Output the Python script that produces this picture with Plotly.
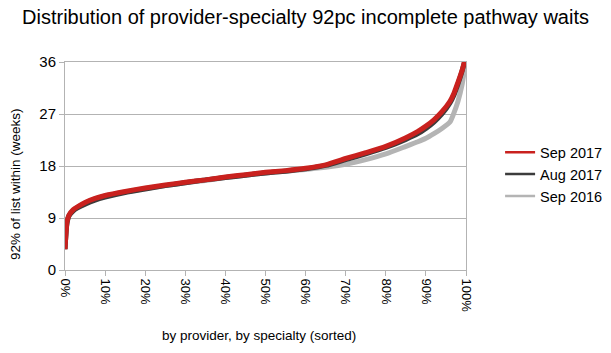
import plotly.graph_objects as go

pct = [0, 0.5, 1, 2, 3, 5, 7.5, 10, 15, 20, 25, 30, 35, 40, 45, 50, 55, 60,
       65, 70, 75, 80, 85, 88, 90, 92, 94, 96, 97, 98, 99, 100]

sep_2017 = [3.6, 8.3, 9.5, 10.4, 10.9, 11.7, 12.4, 12.9, 13.6, 14.2, 14.7, 15.2,
            15.6, 16.1, 16.5, 16.9, 17.2, 17.6, 18.2, 19.3, 20.3, 21.4, 22.9,
            24.0, 24.9, 26.0, 27.4, 29.2, 30.6, 32.5, 34.5, 37.0]
aug_2017 = [3.6, 8.2, 9.4, 10.2, 10.7, 11.4, 12.1, 12.6, 13.4, 14.0, 14.6, 15.1,
            15.6, 16.0, 16.4, 16.8, 17.1, 17.5, 18.1, 19.1, 20.1, 21.2, 22.6,
            23.6, 24.5, 25.6, 27.0, 28.9, 30.3, 32.2, 34.4, 37.0]
sep_2016 = [3.6, 8.2, 9.4, 10.3, 10.8, 11.6, 12.3, 12.8, 13.5, 14.1, 14.6, 15.1,
            15.5, 16.0, 16.4, 16.8, 17.1, 17.4, 17.8, 18.3, 19.1, 20.1, 21.4,
            22.2, 22.8, 23.6, 24.5, 25.6, 27.2, 29.2, 32.0, 36.5]

series = [
    ("Sep 2016", sep_2016, "#b4b4b4"),
    ("Aug 2017", aug_2017, "#3c3c3c"),
    ("Sep 2017", sep_2017, "#c9211e"),
]

x = [p / 100 for p in pct]
fig = go.Figure()
for name, vals, col in series:
    fig.add_trace(go.Scatter(x=x, y=vals, name=name, mode="lines", showlegend=False,
                             line=dict(color=col, width=5, shape="spline", smoothing=0.6)))
# legend entries with thin sample lines
for name, vals, col in series:
    fig.add_trace(go.Scatter(x=[None], y=[None], name=name, mode="lines",
                             line=dict(color=col, width=2.5)))

axis_col = "#b3b3b3"
fig.update_layout(
    width=611, height=353,
    margin=dict(l=65, r=145, t=62, b=83, autoexpand=False),
    paper_bgcolor="white", plot_bgcolor="white",
    font=dict(family="Liberation Sans, Arial, sans-serif", color="black"),
    title=dict(text="Distribution of provider-specialty 92pc incomplete pathway waits",
               x=0.5, xanchor="center", y=0.952, yanchor="middle",
               font=dict(size=20, color="black")),
    showlegend=True,
    legend=dict(traceorder="reversed", x=1.085, xanchor="left", y=0.46, yanchor="middle",
                font=dict(size=14.5), bgcolor="rgba(0,0,0,0)", tracegroupgap=0,
                borderwidth=0),
    xaxis=dict(range=[0, 1], tickformat=".0%", dtick=0.1, tick0=0, tickangle=90,
               showgrid=False, showline=True, linecolor=axis_col, linewidth=1, mirror=True,
               ticks="outside", ticklen=5, tickcolor=axis_col, zeroline=False,
               tickfont=dict(size=13)),
    yaxis=dict(range=[0, 36], tickvals=[0, 9, 18, 27, 36],
               showgrid=True, gridcolor=axis_col, gridwidth=1,
               showline=True, linecolor=axis_col, linewidth=1, mirror=True,
               ticks="outside", ticklen=5, tickcolor=axis_col, zeroline=False,
               tickfont=dict(size=15)),
    annotations=[
        dict(text="by provider, by specialty (sorted)", xref="paper", yref="paper",
             x=0.485, y=(353 - 335 - 83) / 208, xanchor="center", yanchor="middle",
             showarrow=False, font=dict(size=13.5)),
        dict(text="92% of list within (weeks)", xref="paper", yref="paper",
             x=(15 - 65) / 401, y=(270 - 184) / 208, xanchor="center", yanchor="middle",
             textangle=-90, showarrow=False, font=dict(size=13.5)),
    ],
)

fig.write_html("out.html")
